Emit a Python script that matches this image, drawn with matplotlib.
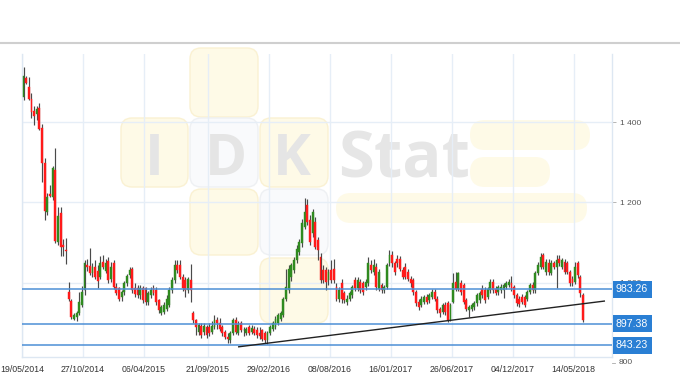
import matplotlib
matplotlib.use("Agg")
import matplotlib.pyplot as plt
import matplotlib.dates as mdates
from matplotlib.patches import FancyBboxPatch
from matplotlib.lines import Line2D
import matplotlib.transforms as mtransforms
import numpy as np
from datetime import datetime, timedelta

# ---------------- data ----------------
start_date = datetime(2014, 5, 23)  # first weekly candle
opens = [1464, 1511, 1489, 1459, 1429, 1421, 1436, 1387, 1299, 1177,
         1221, 1214, 1281, 1102, 1174, 1093, 1082, 977, 955, 910,
         915, 924, 944, 981, 1044, 1041, 1024, 1039, 1030, 1015,
         1052, 1030, 1054, 1010, 1048, 990, 986, 964, 977, 999,
         1019, 1033, 986, 986, 969, 986, 986, 952, 969, 986,
         981, 956, 925, 927, 935, 944, 981, 1006, 1044, 1044,
         1015, 1006, 981, 1006, 923, 906, 877, 891, 877, 889,
         889, 877, 889, 906, 898, 889, 877, 864, 856, 873,
         906, 875, 898, 881, 873, 889, 877, 883, 881, 875,
         881, 873, 856, 873, 883, 889, 900, 910, 919, 960,
         981, 1015, 1031, 1056, 1077, 1098, 1140, 1194, 1156, 1123,
         1152, 1106, 1065, 1031, 1031, 1006, 1031, 1035, 989, 960,
         998, 973, 952, 960, 969, 1006, 986, 1002, 998, 989,
         998, 1044, 1027, 1039, 985, 993, 981, 989, 1048, 1069,
         1048, 1060, 1060, 1031, 1040, 1027, 1010, 1006, 977, 952,
         944, 952, 964, 956, 964, 977, 960, 935, 927, 944,
         948, 906, 952, 1002, 985, 998, 994, 956, 931, 935,
         938, 948, 956, 985, 981, 964, 981, 1002, 985, 977,
         981, 981, 989, 994, 998, 989, 969, 960, 964, 964,
         960, 977, 994, 981, 1023, 1040, 1069, 1027, 1048, 1023,
         1048, 1040, 1060, 1040, 1052, 1048, 1027, 1010, 1002, 1048,
         1015, 969]
highs = [1539, 1516, 1514, 1474, 1440, 1442, 1449, 1395, 1311, 1224,
         1243, 1292, 1337, 1189, 1190, 1108, 1111, 1002, 960, 925,
         930, 977, 992, 1056, 1060, 1086, 1050, 1056, 1045, 1066,
         1070, 1060, 1064, 1052, 1056, 1000, 990, 982, 1005, 1022,
         1039, 1040, 999, 995, 995, 992, 990, 980, 990, 995,
         988, 960, 945, 952, 968, 990, 1015, 1056, 1056, 1056,
         1022, 1015, 1015, 1046, 930, 910, 900, 900, 898, 895,
         898, 905, 920, 915, 912, 895, 882, 875, 880, 912,
         915, 905, 905, 889, 890, 895, 895, 892, 888, 889,
         885, 878, 880, 895, 905, 916, 925, 930, 965, 1035,
         1044, 1050, 1065, 1095, 1110, 1160, 1210, 1208, 1170, 1183,
         1165, 1115, 1075, 1044, 1040, 1035, 1056, 1060, 1000, 990,
         1010, 980, 968, 980, 995, 1015, 1015, 1010, 1005, 1010,
         1064, 1056, 1060, 1048, 1035, 1000, 995, 1050, 1081, 1078,
         1055, 1068, 1066, 1040, 1048, 1034, 1016, 1012, 982, 958,
         966, 970, 972, 975, 985, 984, 966, 940, 950, 952,
         955, 948, 1023, 1027, 1027, 1006, 1000, 962, 945, 950,
         955, 975, 980, 995, 990, 990, 1008, 1010, 992, 995,
         996, 1000, 1005, 1008, 1016, 995, 975, 966, 972, 970,
         982, 1000, 1002, 1030, 1052, 1073, 1073, 1060, 1058, 1056,
         1055, 1070, 1068, 1062, 1058, 1054, 1032, 1016, 1052, 1053,
         1020, 974]
lows = [1456, 1495, 1455, 1412, 1394, 1406, 1380, 1252, 1156, 1170,
        1214, 1206, 1100, 1094, 1066, 1066, 1046, 955, 909, 906,
        905, 920, 940, 970, 1030, 1020, 1015, 1010, 986, 1010,
        1035, 1025, 1000, 1002, 985, 968, 955, 955, 970, 992,
        1012, 975, 965, 962, 960, 950, 945, 945, 962, 968,
        945, 925, 918, 922, 930, 940, 975, 1000, 1025, 1010,
        980, 965, 975, 952, 900, 870, 870, 862, 870, 862,
        866, 872, 885, 885, 880, 866, 858, 850, 848, 868,
        872, 870, 876, 866, 868, 868, 872, 870, 862, 860,
        855, 849, 847, 870, 878, 885, 895, 905, 915, 955,
        975, 1005, 1025, 1050, 1070, 1090, 1135, 1145, 1095, 1115,
        1085, 1056, 1000, 1000, 981, 995, 1000, 1000, 955, 952,
        950, 948, 945, 955, 962, 980, 980, 975, 970, 982,
        992, 1025, 1020, 982, 980, 975, 975, 985, 1042, 1040,
        1020, 1040, 1030, 1008, 1008, 1004, 990, 970, 942, 932,
        938, 946, 946, 950, 958, 954, 925, 915, 922, 920,
        902, 903, 948, 980, 978, 970, 946, 928, 915, 928,
        932, 942, 950, 962, 950, 958, 975, 975, 968, 970,
        975, 961, 984, 988, 980, 962, 942, 940, 946, 938,
        955, 972, 975, 975, 1018, 1035, 1035, 1020, 1020, 1018,
        1035, 986, 1042, 1035, 1022, 1022, 992, 992, 996, 1012,
        965, 902]
closes = [1516, 1499, 1459, 1427, 1416, 1434, 1384, 1299, 1180, 1214,
          1217, 1286, 1104, 1166, 1089, 1089, 1078, 959, 915, 920,
          924, 952, 977, 1048, 1039, 1024, 1039, 1015, 1005, 1050,
          1039, 1050, 1006, 1040, 990, 973, 960, 977, 999, 1017,
          1031, 981, 971, 969, 986, 956, 952, 974, 981, 974,
          952, 931, 939, 944, 960, 981, 1006, 1044, 1031, 1015,
          986, 981, 1008, 981, 906, 889, 894, 869, 891, 869,
          873, 891, 906, 900, 885, 873, 864, 860, 873, 906,
          877, 895, 881, 881, 883, 873, 887, 875, 869, 866,
          860, 856, 873, 889, 898, 910, 919, 923, 960, 989,
          1035, 1044, 1056, 1085, 1102, 1148, 1177, 1152, 1102, 1177,
          1090, 1081, 1006, 1006, 1002, 1027, 1006, 1006, 960, 981,
          960, 956, 960, 973, 989, 986, 1006, 981, 977, 1002,
          1048, 1031, 1044, 989, 1027, 981, 989, 1044, 1069, 1048,
          1027, 1048, 1035, 1015, 1015, 1010, 998, 977, 948, 939,
          960, 964, 952, 969, 977, 960, 931, 923, 944, 927,
          906, 944, 998, 985, 1023, 977, 952, 935, 939, 944,
          948, 969, 973, 969, 956, 985, 1002, 981, 973, 989,
          989, 994, 1000, 1002, 985, 969, 948, 946, 952, 944,
          977, 994, 981, 1023, 1044, 1065, 1040, 1052, 1027, 1048,
          1040, 1056, 1048, 1056, 1027, 1027, 998, 998, 1040, 1019,
          973, 906]

levels = [983.26, 897.38, 843.23]
trend_dates = ["12/12/2015", "03/08/2018"]
trend_values = [839.5, 953.7]
xtick_labels = ["19/05/2014", "27/10/2014", "06/04/2015", "21/09/2015",
                "29/02/2016", "08/08/2016", "16/01/2017", "26/06/2017",
                "04/12/2017", "14/05/2018"]
ytick_values = [1000, 1200, 1400]
ytick_below = 800

# ---------------- figure ----------------
W, H = 680, 380
fig = plt.figure(figsize=(W / 100, H / 100), dpi=100)
fig.patch.set_facecolor("white")

# page separator line at the top
fig.add_artist(Line2D([0, 1], [1 - 43 / H] * 2, transform=fig.transFigure,
                      color="#cfcfcf", lw=1.5))

# ---------------- watermark (in pixel units) ----------------
px = mtransforms.Affine2D().scale(1 / 100) + fig.dpi_scale_trans
def px_box(x0, x1, ytop, ybot, fc, ec, r):
    p = FancyBboxPatch((x0, H - ybot), x1 - x0, ybot - ytop,
                       boxstyle=f"round,pad=0,rounding_size={r}",
                       transform=px, fc=fc, ec=ec, lw=1.0, zorder=-5)
    fig.add_artist(p)

yel, yel_e = "#fefae7", "#faf1d2"
wht, wht_e = "#f9fafc", "#eef0f3"
px_box(190, 258, 48, 117, yel, yel_e, 11)
px_box(121, 188, 118, 187, yel, yel_e, 11)
px_box(190, 258, 118, 187, wht, wht_e, 11)
px_box(260, 328, 118, 187, yel, yel_e, 11)
px_box(190, 258, 189, 255, yel, yel_e, 11)
px_box(260, 328, 189, 255, wht, wht_e, 11)
px_box(260, 328, 258, 323, yel, yel_e, 11)
px_box(470, 590, 120, 150, yel, "none", 15)
px_box(470, 550, 157, 187, yel, "none", 15)
px_box(336, 587, 193, 223, yel, "none", 15)

wm_font = ["Open Sans", "DejaVu Sans"]
for letter, cx in (("I", 154), ("D", 226), ("K", 292)):
    fig.text(cx / W, 1 - 175 / H, letter, ha="center", va="baseline",
             fontsize=41, fontweight="bold", color="#e5e5e5",
             family=wm_font, zorder=-4)
fig.text(338 / W, 1 - 178 / H, "Stat", ha="left", va="baseline",
         fontsize=47, fontweight="bold", color="#e6e6e6",
         family=wm_font, zorder=-4)

# ---------------- axes ----------------
ax = fig.add_axes([22 / W, 1 - 357 / H, (611.5 - 22) / W, (357 - 54) / H])
ax.set_facecolor("none")

dates = [start_date + timedelta(weeks=i) for i in range(len(closes))]
x = mdates.date2num(dates)
o = np.array(opens, float)
h = np.array(highs, float)
l = np.array(lows, float)
c = np.array(closes, float)
up = c >= o
body_col = np.where(up, "#2f8a1f", "#ff1a1a")

ax.vlines(x, l, h, color="#4a4a4a", lw=0.85, zorder=3)
ax.bar(x, c - o, bottom=o, width=5.0, color=body_col, edgecolor=body_col,
       lw=0.3, zorder=4)

for v in levels:
    ax.axhline(v, color="#4d8fd6", lw=1.1, zorder=5)

td = mdates.date2num([datetime.strptime(d, "%d/%m/%Y") for d in trend_dates])
ax.plot(td, trend_values, color="#222222", lw=1.0, zorder=6)

xmin = mdates.date2num(datetime(2014, 5, 19))
xmax = mdates.date2num(datetime(2018, 8, 22))
ax.set_xlim(xmin, xmax)
ax.set_ylim(814, 1571)

xt = mdates.date2num([datetime.strptime(d, "%d/%m/%Y") for d in xtick_labels])
ax.set_xticks(xt)
ax.set_xticklabels(xtick_labels, family="Liberation Sans", fontsize=6.3,
                   color="#333333")
ax.tick_params(axis="x", length=0, pad=6)

ax.yaxis.tick_right()
ax.set_yticks(ytick_values)
ax.set_yticklabels([f"{v:,}".replace(",", " ") for v in ytick_values],
                   family="Liberation Sans", fontsize=6, color="#555555")
ax.tick_params(axis="y", length=3, width=0.6, color="#aaaaaa", pad=3)

ax.grid(True, color="#e6eef7", lw=1.0, zorder=0)
ax.set_axisbelow(True)
for s in ("left", "right", "bottom"):
    ax.spines[s].set_color("#dde7f2")
    ax.spines[s].set_linewidth(1.0)
ax.spines["top"].set_visible(False)

trans = mtransforms.blended_transform_factory(ax.transAxes, ax.transData)
ax.text(1.0 + 7 / 589.5, ytick_below, "800", transform=trans, ha="left",
        va="center", family="Liberation Sans", fontsize=6, color="#555555",
        clip_on=False)
ax.plot([1.0, 1.0 + 3 / 589.5], [ytick_below] * 2, transform=trans,
        color="#aaaaaa", lw=0.6, clip_on=False)

for v in levels:
    ax.text(1.0 + 4.5 / 589.5, v, f"{v:.2f}", transform=trans, ha="left",
            va="center", family="Liberation Sans", fontsize=7.6,
            color="white", clip_on=False, zorder=20,
            bbox=dict(boxstyle="square,pad=0.33", fc="#2a7fd4", ec="none"))

fig.savefig("out.png", dpi=100)
